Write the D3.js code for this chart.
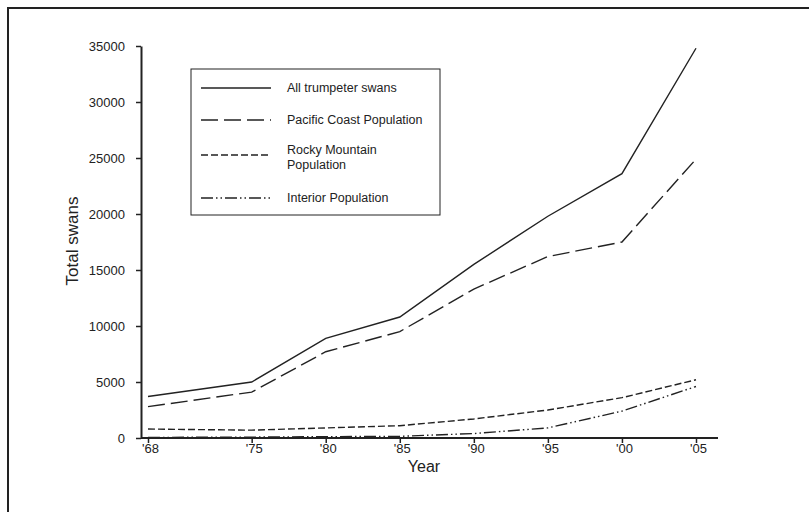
<!DOCTYPE html>
<html><head><meta charset="utf-8">
<script src="https://cdn.jsdelivr.net/npm/d3@7"></script>
<style>body{margin:0;background:#fff}svg{display:block}text{font-family:"Liberation Sans",Arial,sans-serif;fill:#222}</style>
</head><body><svg id="c" width="809" height="512"></svg>
<script>
const years = [1968, 1975, 1980, 1985, 1990, 1995, 2000, 2005];
const yearLabels = ["'68", "'75", "'80", "'85", "'90", "'95", "'00", "'05"];
const allSwans = [3700, 5000, 8900, 10800, 15500, 19800, 23600, 34800];
const pacificCoast = [2800, 4100, 7700, 9500, 13300, 16200, 17500, 24900];
const rockyMountain = [800, 700, 900, 1100, 1700, 2500, 3600, 5200];
const interior = [50, 80, 120, 150, 400, 900, 2400, 4600];
const yTicks = [0, 5000, 10000, 15000, 20000, 25000, 30000, 35000];
const seriesNames = ["All trumpeter swans", "Pacific Coast Population", "Rocky Mountain|Population", "Interior Population"];

const series = [
  {name: seriesNames[0], values: allSwans, dash: null},
  {name: seriesNames[1], values: pacificCoast, dash: "17,6"},
  {name: seriesNames[2], values: rockyMountain, dash: "7,3"},
  {name: seriesNames[3], values: interior, dash: "12,3,1.5,3,1.5,3"}
];

const svg = d3.select("#c");
const ink = "#222";
// frame
svg.append("path").attr("d", "M8,512V8H809").attr("fill","none").attr("stroke", ink).attr("stroke-width", 2);

const x = d3.scaleLinear().domain([1968, 2005]).range([148, 696]);
const y = d3.scaleLinear().domain([0, 35000]).range([438, 46]);

const xAxis = d3.axisBottom(x).tickValues(years).tickFormat((d,i) => yearLabels[i]).tickSize(5).tickSizeOuter(0);
const gx = svg.append("g").attr("transform", "translate(0,438)").call(xAxis);
gx.select(".domain").remove();
gx.append("line").attr("x1", 141).attr("x2", 718).attr("y1", 0).attr("y2", 0).attr("stroke", ink).attr("stroke-width", 2);
gx.selectAll(".tick line").attr("stroke", ink).attr("stroke-width", 1.5);
gx.selectAll(".tick text").attr("font-size", 13).attr("dy", "0.55em").attr("dx", "2px").attr("fill", ink);

const yAxis = d3.axisLeft(y).tickValues(yTicks).tickFormat(d3.format("d")).tickSize(5).tickSizeOuter(0);
const gy = svg.append("g").attr("transform", "translate(141,0)").call(yAxis);
gy.select(".domain").attr("stroke", ink).attr("stroke-width", 2);
gy.selectAll(".tick line").attr("stroke", ink).attr("stroke-width", 1.5);
gy.selectAll(".tick text").attr("font-size", 13).attr("dx", "-8px").attr("fill", ink);

svg.append("text").attr("x", 424).attr("y", 472).attr("text-anchor", "middle").attr("font-size", 16).text("Year");
svg.append("text").attr("transform", "translate(78,241) rotate(-90)").attr("text-anchor", "middle").attr("font-size", 17).text("Total swans");

const line = d3.line().x((d,i) => x(years[i])).y(d => y(d));
series.forEach(s => {
  svg.append("path").datum(s.values).attr("d", line).attr("fill", "none")
    .attr("stroke", ink).attr("stroke-width", 1.4)
    .attr("stroke-dasharray", s.dash);
});

// legend
const lg = svg.append("g");
lg.append("rect").attr("x", 191).attr("y", 69).attr("width", 249).attr("height", 146)
  .attr("fill", "#fff").attr("stroke", ink).attr("stroke-width", 1);
const legY = [88, 120, 150, 198];
series.forEach((s, i) => {
  const ly = i === 2 ? 155 : legY[i];
  lg.append("line").attr("x1", 201).attr("x2", 271).attr("y1", ly).attr("y2", ly)
    .attr("stroke", ink).attr("stroke-width", 1.3).attr("stroke-dasharray", s.dash);
  const parts = s.name.split("|");
  parts.forEach((p, j) => {
    lg.append("text").attr("x", 287).attr("y", legY[i] + j * 14.5).attr("dy", "0.35em")
      .attr("font-size", 12.5).text(p);
  });
});
</script></body></html>
